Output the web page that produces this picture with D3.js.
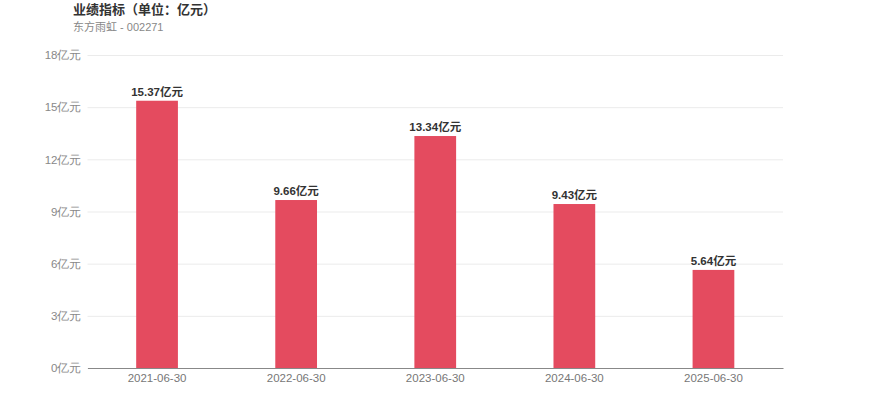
<!DOCTYPE html>
<html>
<head>
<meta charset="utf-8">
<script src="https://cdn.jsdelivr.net/npm/d3@7"></script>
<style>
  html, body { margin: 0; padding: 0; background: #fff; }
  svg { display: block; font-family: "Liberation Sans", "Noto Sans CJK SC", sans-serif; }
</style>
</head>
<body>
<div id="chart"></div>
<script>
// 东方雨虹 业绩指标
var dates = ["2021-06-30", "2022-06-30", "2023-06-30", "2024-06-30", "2025-06-30"];
var values = [15.37, 9.66, 13.34, 9.43, 5.64];
var yTicks = [0, 3, 6, 9, 12, 15, 18];

var width = 870,
    height = 417,
    margin = {top: 55, right: 87, bottom: 49, left: 87.5};

var svg = d3.select("#chart").append("svg")
    .attr("width", width)
    .attr("height", height);

var x = d3.scaleBand()
    .domain(dates)
    .range([margin.left, width - margin.right])
    .paddingInner(0.7)
    .paddingOuter(0.35);

var y = d3.scaleLinear()
    .domain([0, 18])
    .range([height - margin.bottom, margin.top]);

// title
svg.append("text")
    .attr("x", 73).attr("y", 14)
    .attr("font-size", 13).attr("font-weight", "bold")
    .attr("fill", "#333")
    .text("业绩指标（单位：亿元）");

svg.append("text")
    .attr("x", 73).attr("y", 31)
    .attr("font-size", 11)
    .attr("fill", "#888")
    .text("东方雨虹 - 002271");

// grid + y axis
var yAxis = svg.append("g")
    .attr("transform", "translate(" + margin.left + ",0)")
    .call(d3.axisLeft(y)
      .tickValues(yTicks)
      .tickSize(-(width - margin.right - margin.left))
      .tickPadding(6)
      .tickFormat(d => d + "亿元"));
yAxis.select(".domain").remove();
yAxis.selectAll(".tick line").attr("stroke", "#ebebeb");
yAxis.selectAll(".tick text")
    .attr("fill", "#888")
    .attr("font-size", 11.5);

// bars
svg.selectAll("rect.bar")
  .data(values)
  .join("rect")
    .attr("class", "bar")
    .attr("x", (d, i) => x(dates[i]))
    .attr("width", x.bandwidth())
    .attr("y", d => y(d))
    .attr("height", d => y(0) - y(d))
    .attr("fill", "#e44b5f");

svg.selectAll("text.label")
  .data(values)
  .join("text")
    .attr("class", "label")
    .attr("x", (d, i) => x(dates[i]) + x.bandwidth() / 2)
    .attr("y", d => y(d) - 5)
    .attr("text-anchor", "middle")
    .attr("font-size", 11.5).attr("font-weight", "bold")
    .attr("fill", "#333")
    .text(d => d.toFixed(2) + "亿元");

// x axis
var xAxis = svg.append("g")
    .attr("transform", "translate(0," + y(0) + ")")
    .call(d3.axisBottom(x).tickSize(0).tickPadding(6).tickSizeOuter(0));
xAxis.select(".domain").attr("stroke", "#888");
xAxis.selectAll(".tick text")
    .attr("fill", "#777")
    .attr("font-size", 11.5);
</script>
</body>
</html>
